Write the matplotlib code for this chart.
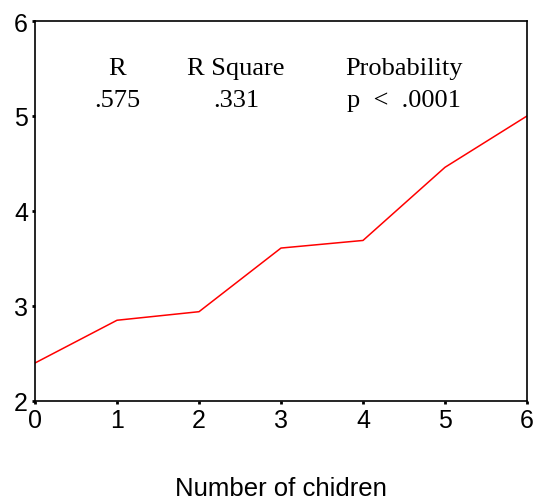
import matplotlib
matplotlib.use('Agg')
import matplotlib.pyplot as plt

children = [0, 1, 2, 3, 4, 5, 6]
values = [2.40, 2.85, 2.94, 3.61, 3.69, 4.46, 5.00]

stat_names = ['R', 'R Square', 'Probability']
stat_values = ['.575', '.331', 'p  <  .0001']
stat_x = [1.0, 2.45, 4.5]

fig = plt.figure(figsize=(5.36, 5.02), dpi=100)
ax = fig.add_axes([35 / 536, 1 - 402 / 502, 492 / 536, 380 / 502])

ax.plot(children, values, color='red', lw=1.1)

ax.set_xlim(0, 6)
ax.set_ylim(2, 6)
ax.set_xticks(range(7))
ax.set_yticks(range(2, 7))
ax.tick_params(labelsize=18, length=2, width=2, pad=3)
for lab in ax.get_xticklabels() + ax.get_yticklabels():
    lab.set_family('Liberation Sans')
for s in ax.spines.values():
    s.set_linewidth(1.2)

for x, name, val in zip(stat_x, stat_names, stat_values):
    ax.text(x, 5.51, name, ha='center', va='center', fontsize=19, family='Liberation Serif')
    ax.text(x, 5.17, val, ha='center', va='center', fontsize=19, family='Liberation Serif')

ax.set_xlabel('Number of chidren', fontsize=18.5, family='Liberation Sans', labelpad=32)

plt.savefig('out.png', dpi=100)
